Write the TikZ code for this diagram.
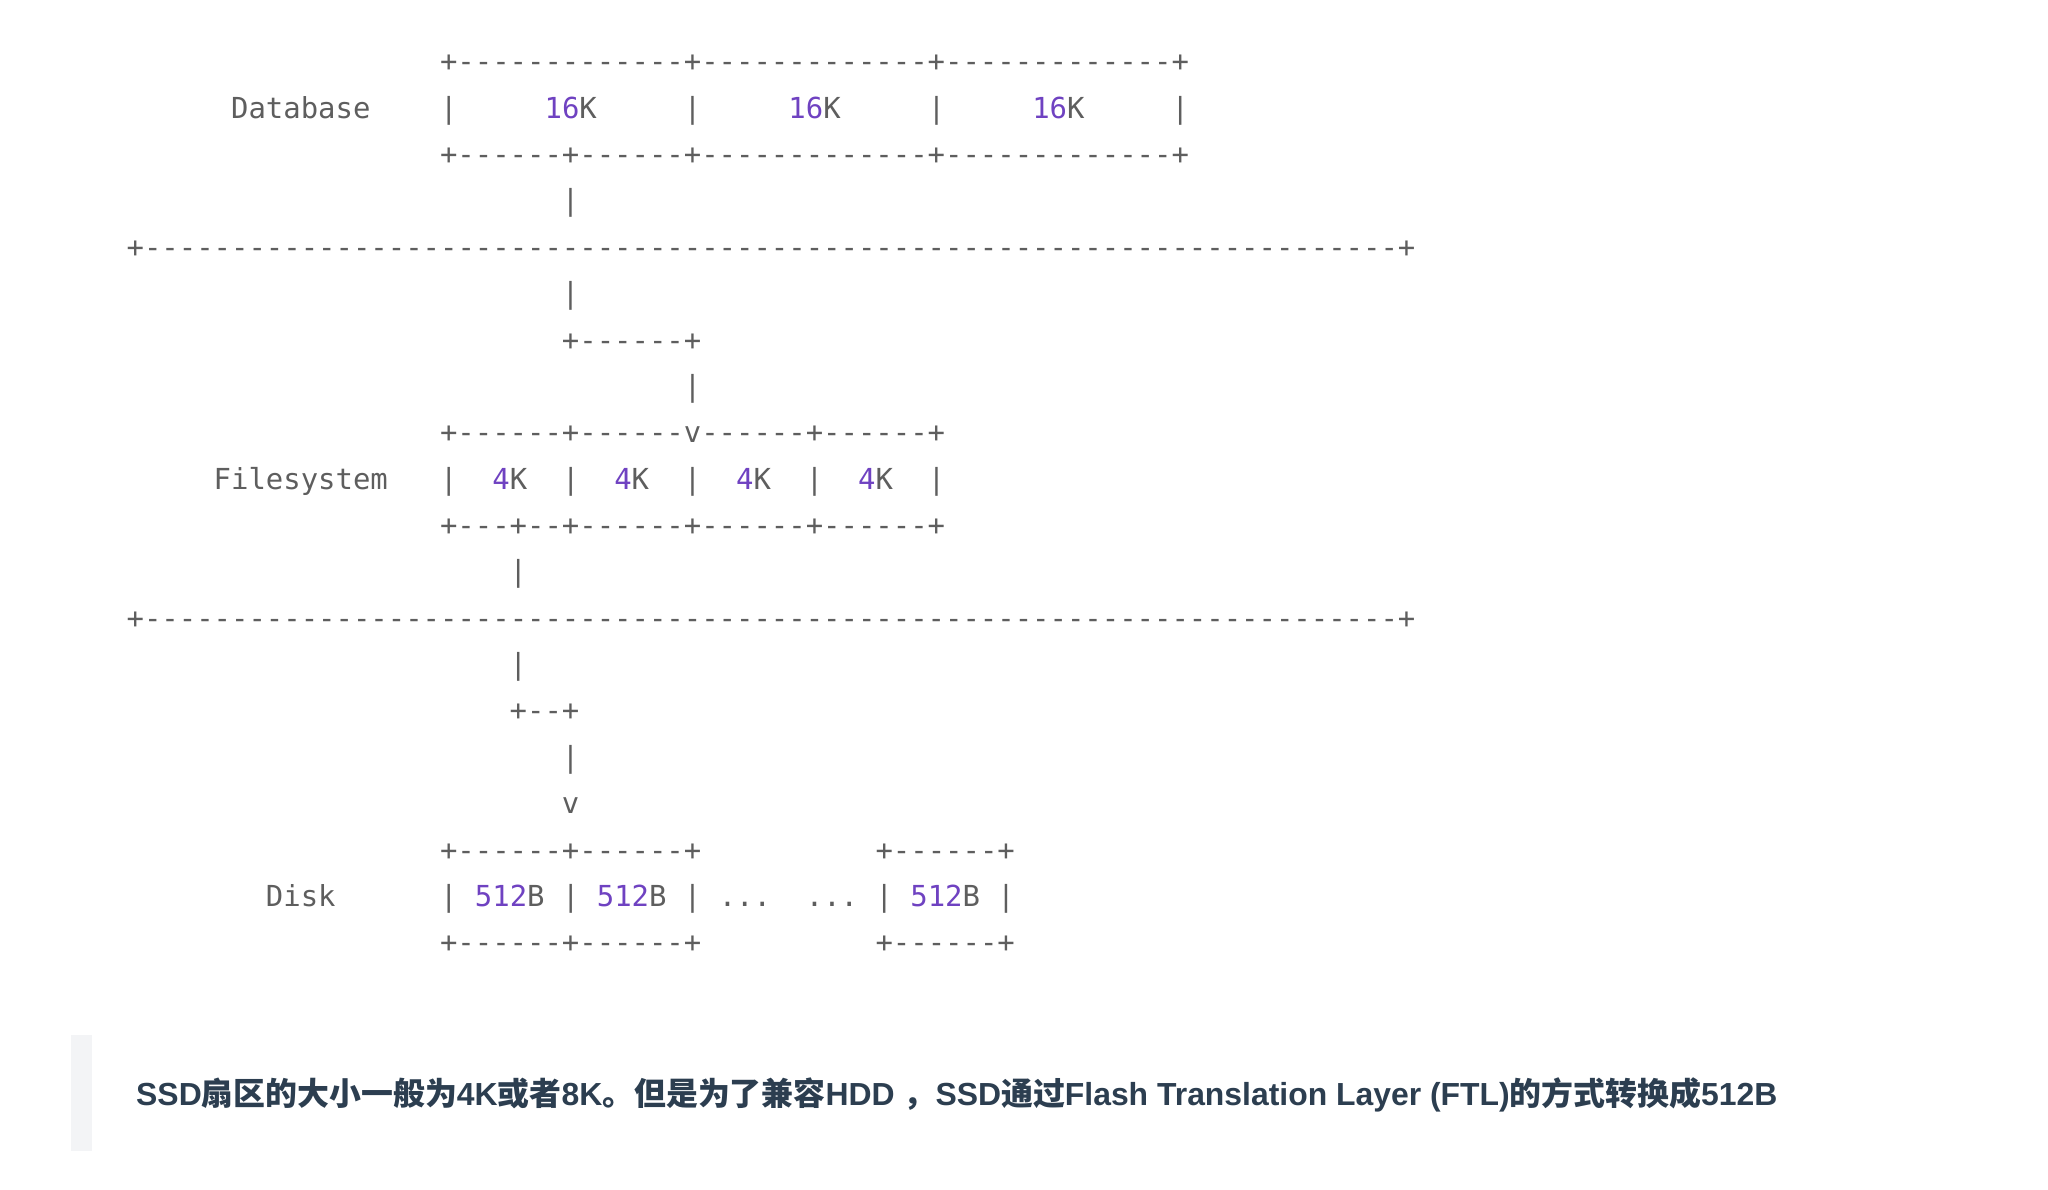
\documentclass[tikz,border=0pt]{standalone}
\usepackage{fontspec}
\setmainfont{Liberation Sans}
\newfontfamily\mono{DejaVu Sans Mono}
\newfontfamily\cjk{Noto Sans CJK SC}
\definecolor{asciic}{HTML}{5E5E5E}
\definecolor{numc}{HTML}{6F42C1}
\definecolor{notec}{HTML}{2C3E50}
\definecolor{barc}{HTML}{F3F4F6}
\newcount\dshn
\newcommand\dsh[1]{\dshn=#1\relax\loop\ifnum\dshn>0 -\kern0pt\advance\dshn by -1 \repeat}
\newcommand\nm[1]{\textcolor{numc}{#1}}
\newcommand\cx[1]{\fpeval{126.6+17.415*#1}}
\newcommand\ry[1]{\fpeval{71.8+46.37*(#1-1)}}
\tikzset{
  asc/.style={anchor=base west, inner sep=0pt, outer sep=0pt, text=asciic,
    font=\mono\fontsize{28.93}{46.37}\selectfont},
  note/.style={anchor=base west, inner sep=0pt, text=notec,
    font=\fontsize{31.9}{38}\selectfont\bfseries}
}
\begin{document}
\begin{tikzpicture}[x=1pt,y=-1pt]
\useasboundingbox (0,0) rectangle (2048,1190);
% Database
\node[asc] (l1) at (\cx{18},\ry{1}) {+\dsh{13}+\dsh{13}+\dsh{13}+};
\node[asc] (l2) at (\cx{6},\ry{2}) {Database~~~~|~~~~~\nm{16}K~~~~~|~~~~~\nm{16}K~~~~~|~~~~~\nm{16}K~~~~~|};
\node[asc] (l3) at (\cx{18},\ry{3}) {+\dsh{6}+\dsh{6}+\dsh{13}+\dsh{13}+};
\node[asc] (l4) at (\cx{25},\ry{4}) {|};
\node[asc] (l5) at (\cx{0},\ry{5}) {+\dsh{72}+};
\node[asc] (l6) at (\cx{25},\ry{6}) {|};
\node[asc] (l7) at (\cx{25},\ry{7}) {+\dsh{6}+};
\node[asc] (l8) at (\cx{32},\ry{8}) {|};
% Filesystem
\node[asc] (l9) at (\cx{18},\ry{9}) {+\dsh{6}+\dsh{6}v\dsh{6}+\dsh{6}+};
\node[asc] (l10) at (\cx{5},\ry{10}) {Filesystem~~~|~~\nm{4}K~~|~~\nm{4}K~~|~~\nm{4}K~~|~~\nm{4}K~~|};
\node[asc] (l11) at (\cx{18},\ry{11}) {+\dsh{3}+\dsh{2}+\dsh{6}+\dsh{6}+\dsh{6}+};
\node[asc] (l12) at (\cx{22},\ry{12}) {|};
\node[asc] (l13) at (\cx{0},\ry{13}) {+\dsh{72}+};
\node[asc] (l14) at (\cx{22},\ry{14}) {|};
\node[asc] (l15) at (\cx{22},\ry{15}) {+\dsh{2}+};
\node[asc] (l16) at (\cx{25},\ry{16}) {|};
\node[asc] (l17) at (\cx{25},\ry{17}) {v};
% Disk
\node[asc] (l18) at (\cx{18},\ry{18}) {+\dsh{6}+\dsh{6}+~~~~~~~~~~+\dsh{6}+};
\node[asc] (l19) at (\cx{8},\ry{19}) {Disk~~~~~~|~\nm{512}B~|~\nm{512}B~|~...~~...~|~\nm{512}B~|};
\node[asc] (l20) at (\cx{18},\ry{20}) {+\dsh{6}+\dsh{6}+~~~~~~~~~~+\dsh{6}+};
% note
\fill[barc] (71,1035) rectangle (92,1151);
\node[note] (nt) at (136,1105) {SSD{\cjk 扇区的大小一般为}4K{\cjk 或者}8K{\cjk 。但是为了兼容}HDD {\cjk ，}SSD{\cjk 通过}Flash Translation Layer (FTL){\cjk 的方式转换成}512B};
\end{tikzpicture}
\end{document}
